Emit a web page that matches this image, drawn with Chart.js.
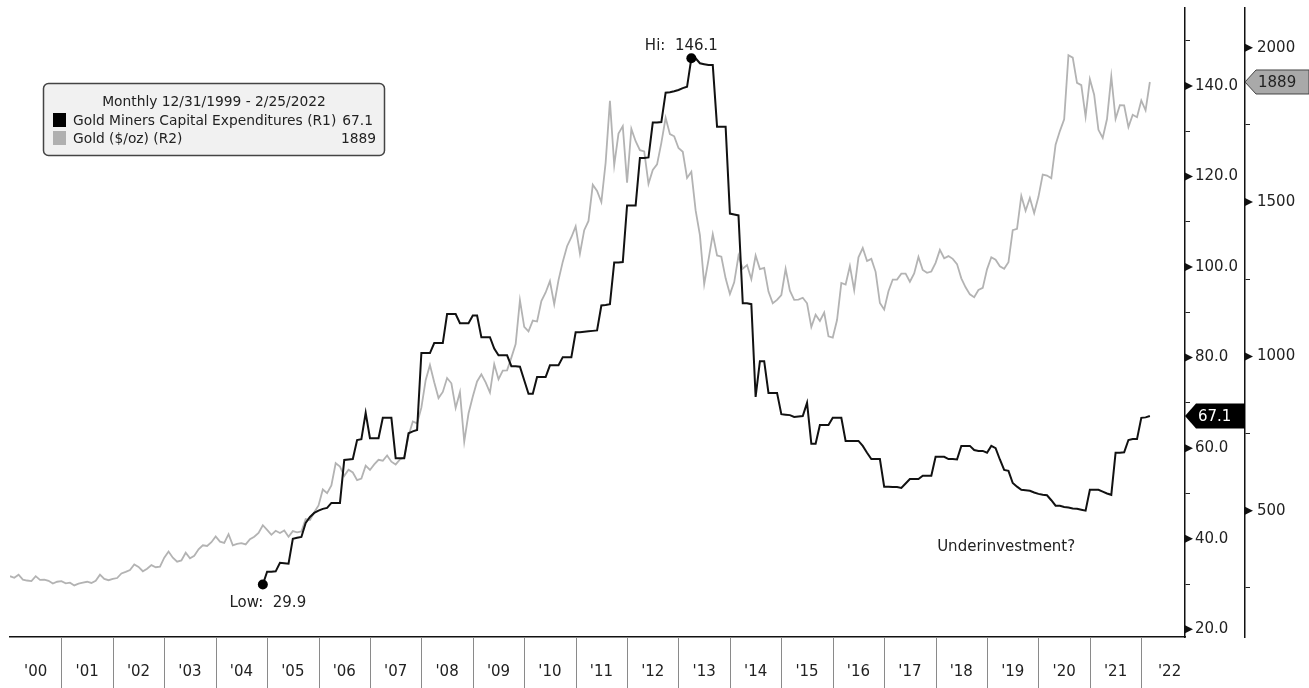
<!DOCTYPE html>
<html>
<head>
<meta charset="utf-8">
<script src="https://cdn.jsdelivr.net/npm/chart.js@4.4.1/dist/chart.umd.min.js"></script>
<style>
  html, body { margin: 0; padding: 0; background: #fff; }
  #wrap { position: relative; width: 1309px; height: 688px; }
</style>
</head>
<body>
<div id="wrap"><canvas id="goldChart"></canvas></div>
<script>
// monthly closes, first point 12/31/1999, last point 2/25/2022
var goldPrice = [
  288,
  283, 293, 277, 274, 272, 288, 276, 277, 273, 264, 270, 272,          // 2000
  265, 267, 258, 264, 267, 270, 266, 273, 293, 279, 275, 279,          // 2001
  282, 297, 302, 308, 326, 318, 304, 312, 324, 317, 319, 348,          // 2002
  368, 348, 335, 339, 364, 346, 354, 375, 388, 386, 398, 417,          // 2003
  400, 396, 424, 388, 393, 395, 391, 408, 416, 428, 453, 438,          // 2004
  422, 435, 428, 436, 416, 434, 430, 433, 473, 470, 495, 517,          // 2005
  569, 557, 582, 654, 643, 613, 633, 624, 599, 604, 646, 632,          // 2006
  650, 665, 662, 679, 659, 650, 666, 673, 743, 789, 783, 834,          // 2007
  923, 972, 916, 865, 885, 930, 913, 833, 884, 724, 815, 870,          // 2008
  919, 942, 916, 883, 975, 926, 954, 955, 996, 1040, 1182, 1096,       // 2009
  1081, 1116, 1113, 1179, 1207, 1244, 1169, 1247, 1307, 1357, 1386, 1421, // 2010
  1333, 1409, 1439, 1556, 1536, 1500, 1628, 1828, 1620, 1722, 1746, 1563, // 2011
  1737, 1697, 1668, 1664, 1559, 1604, 1622, 1692, 1773, 1720, 1713, 1675, // 2012
  1663, 1578, 1598, 1473, 1393, 1234, 1313, 1396, 1327, 1323, 1253, 1202, // 2013
  1240, 1326, 1284, 1296, 1250, 1327, 1283, 1287, 1210, 1172, 1183, 1199, // 2014
  1284, 1213, 1183, 1184, 1190, 1172, 1095, 1135, 1115, 1142, 1065, 1061, // 2015
  1118, 1238, 1233, 1293, 1215, 1321, 1351, 1309, 1316, 1274, 1173, 1152, // 2016
  1211, 1249, 1249, 1268, 1268, 1242, 1269, 1322, 1280, 1271, 1275, 1303, // 2017
  1345, 1318, 1325, 1316, 1299, 1253, 1224, 1201, 1192, 1215, 1222, 1282, // 2018
  1321, 1313, 1292, 1284, 1305, 1409, 1413, 1520, 1472, 1513, 1464, 1517, // 2019
  1589, 1586, 1577, 1686, 1730, 1768, 1976, 1968, 1886, 1879, 1777, 1898, // 2020
  1848, 1734, 1708, 1769, 1907, 1770, 1814, 1813, 1743, 1783, 1775, 1829, // 2021
  1797, 1889                                                              // 2022
];

var minersCapex = [
  null,
  null, null, null, null, null, null, null, null, null, null, null, null, // 2000
  null, null, null, null, null, null, null, null, null, null, null, null, // 2001
  null, null, null, null, null, null, null, null, null, null, null, null, // 2002
  null, null, null, null, null, null, null, null, null, null, null, null, // 2003
  null, null, null, null, null, null, null, null, null, null, 29.9, 32.7, // 2004
  32.7, 32.8, 34.7, 34.6, 34.5, 40.0, 40.2, 40.4, 43.5, 44.8, 45.7, 46.2, // 2005
  46.6, 46.8, 47.9, 47.9, 47.9, 57.4, 57.5, 57.6, 61.8, 62.0, 67.8, 62.2, // 2006
  62.2, 62.2, 66.7, 66.7, 66.7, 57.8, 57.8, 57.8, 63.3, 63.7, 64.0, 81.0, // 2007
  81.0, 81.0, 83.2, 83.2, 83.2, 89.6, 89.6, 89.6, 87.6, 87.6, 87.6, 89.3, // 2008
  89.3, 84.5, 84.5, 84.5, 82.0, 80.5, 80.5, 80.5, 78.1, 78.1, 78.0, 75.0, // 2009
  72.0, 72.0, 75.7, 75.7, 75.7, 78.3, 78.3, 78.3, 80.1, 80.1, 80.1, 85.6, // 2010
  85.6, 85.7, 85.8, 85.9, 86.0, 91.5, 91.6, 91.8, 101.0, 101.0, 101.1, 113.6, // 2011
  113.6, 113.6, 124.1, 124.1, 124.2, 131.9, 131.9, 132.0, 138.5, 138.6, 138.8, 139.1, // 2012
  139.5, 139.8, 146.1, 146.1, 145.0, 144.8, 144.6, 144.6, 131.0, 131.0, 131.0, 111.8, // 2013
  111.6, 111.4, 92.0, 92.0, 91.8, 71.3, 79.2, 79.2, 72.2, 72.2, 72.2, 67.5, // 2014
  67.4, 67.3, 66.9, 67.0, 67.1, 70.0, 61.0, 61.0, 65.1, 65.1, 65.1, 66.7, // 2015
  66.7, 66.7, 61.6, 61.6, 61.6, 61.6, 60.5, 59.0, 57.6, 57.6, 57.6, 51.5, // 2016
  51.5, 51.4, 51.4, 51.2, 52.2, 53.2, 53.2, 53.2, 53.9, 53.9, 53.9, 58.1, // 2017
  58.1, 58.1, 57.6, 57.6, 57.5, 60.5, 60.5, 60.5, 59.6, 59.4, 59.4, 59.0, // 2018
  60.5, 60.0, 57.5, 55.2, 55.0, 52.3, 51.5, 50.8, 50.7, 50.6, 50.2, 49.9, // 2019
  49.7, 49.6, 48.5, 47.3, 47.3, 47.0, 46.9, 46.7, 46.6, 46.4, 46.2, 50.8, // 2020
  50.8, 50.8, 50.4, 50.0, 49.7, 59.0, 59.0, 59.1, 61.8, 62.0, 62.0, 66.7, // 2021
  66.8, 67.1                                                              // 2022
];

var yearTicks = ["'00", "'01", "'02", "'03", "'04", "'05", "'06", "'07", "'08", "'09", "'10",
                 "'11", "'12", "'13", "'14", "'15", "'16", "'17", "'18", "'19", "'20", "'21", "'22"];
var capexTicks = [20, 40, 60, 80, 100, 120, 140];
var capexMinor = [30, 50, 70, 90, 110, 130, 150];
var goldTicks = [500, 1000, 1500, 2000];
var goldMinor = [250, 750, 1250, 1750];

var seriesNames = ['Gold Miners Capital Expenditures (R1)', 'Gold ($/oz) (R2)'];
var periodText = 'Monthly 12/31/1999 - 2/25/2022';
var noteText = 'Underinvestment?';
var notePos = { x: 2018.03, y: 38.2 };

// x position of every month, in years
var monthDates = goldPrice.map(function (v, i) { return 2000 + i / 12; });

var hiIdx = 0, loIdx = -1;
minersCapex.forEach(function (v, i) {
  if (v === null) return;
  if (v > minersCapex[hiIdx] || minersCapex[hiIdx] === null) hiIdx = i;
  if (loIdx < 0 || v < minersCapex[loIdx]) loIdx = i;
});
var lastCapex = minersCapex[minersCapex.length - 1];
var lastGold = goldPrice[goldPrice.length - 1];

var FONT = 'DejaVu Sans, Verdana, sans-serif';

function drawTag(ctx, tipX, y, rightX, h, fill, stroke, text, color) {
  ctx.beginPath();
  ctx.moveTo(tipX, y);
  ctx.lineTo(tipX + 11, y - h / 2);
  ctx.lineTo(rightX, y - h / 2);
  ctx.lineTo(rightX, y + h / 2);
  ctx.lineTo(tipX + 11, y + h / 2);
  ctx.closePath();
  ctx.fillStyle = fill;
  ctx.fill();
  if (stroke) { ctx.strokeStyle = stroke; ctx.lineWidth = 1; ctx.stroke(); }
  ctx.fillStyle = color;
  ctx.font = '15px ' + FONT;
  ctx.textAlign = 'left';
  ctx.textBaseline = 'middle';
  ctx.fillText(text, tipX + 13, y + 1);
}

// vertical axes: no extra room for the end labels
function noEndPadding(scale) {
  scale.paddingTop = 0;
  scale.paddingBottom = 0;
}

var extras = {
  id: 'extras',
  afterDraw: function (chart) {
    var ctx = chart.ctx, area = chart.chartArea;
    var xs = chart.scales.x, r1 = chart.scales.r1, r2 = chart.scales.r2;
    ctx.save();

    // year separators under the time axis
    ctx.strokeStyle = '#8a8a8a';
    ctx.lineWidth = 1;
    for (var yr = 2001; yr <= 2022; yr++) {
      var px = Math.round(xs.getPixelForValue(yr)) + 0.5;
      ctx.beginPath();
      ctx.moveTo(px, area.bottom);
      ctx.lineTo(px, chart.height);
      ctx.stroke();
    }

    // major tick arrows on both value axes
    ctx.fillStyle = '#111';
    [[r1, capexTicks], [r2, goldTicks]].forEach(function (pair) {
      var sc = pair[0];
      pair[1].forEach(function (v) {
        var py = sc.getPixelForValue(v);
        ctx.beginPath();
        ctx.moveTo(sc.left, py - 4);
        ctx.lineTo(sc.left + 8, py);
        ctx.lineTo(sc.left, py + 4);
        ctx.closePath();
        ctx.fill();
      });
    });

    // last value tags
    drawTag(ctx, r1.left, r1.getPixelForValue(lastCapex), r2.left, 25, '#000', null, lastCapex.toFixed(1), '#fff');
    drawTag(ctx, r2.left, r2.getPixelForValue(lastGold), chart.width, 24, '#a9a9a9', '#444', String(lastGold), '#222');

    // hi / low labels
    var pts = chart.getDatasetMeta(0).data;
    ctx.fillStyle = '#222';
    ctx.font = '15px ' + FONT;
    ctx.textAlign = 'center';
    ctx.textBaseline = 'middle';
    ctx.fillText('Hi:  ' + minersCapex[hiIdx].toFixed(1), pts[hiIdx].x - 10, pts[hiIdx].y - 12);
    ctx.fillText('Low:  ' + minersCapex[loIdx].toFixed(1), pts[loIdx].x + 5, pts[loIdx].y + 19);

    ctx.textAlign = 'left';
    ctx.fillText(noteText, xs.getPixelForValue(notePos.x), r1.getPixelForValue(notePos.y));

    // legend box
    ctx.beginPath();
    ctx.roundRect(43.5, 83.5, 341, 72, 5);
    ctx.fillStyle = '#f1f1f1';
    ctx.fill();
    ctx.strokeStyle = '#444';
    ctx.lineWidth = 1.5;
    ctx.stroke();
    ctx.font = '13.8px ' + FONT;
    ctx.fillStyle = '#222';
    ctx.textAlign = 'center';
    ctx.fillText(periodText, 214, 102);
    ctx.fillStyle = '#000';
    ctx.fillRect(53, 113, 13, 14);
    ctx.fillStyle = '#b0b0b0';
    ctx.fillRect(53, 131, 13, 14);
    ctx.fillStyle = '#222';
    ctx.textAlign = 'left';
    ctx.fillText(seriesNames[0], 73, 121);
    ctx.fillText(seriesNames[1], 73, 139);
    ctx.textAlign = 'right';
    ctx.fillText(lastCapex.toFixed(1), 373, 121);
    ctx.fillText(String(lastGold), 376, 139);

    ctx.restore();
  }
};

new Chart(document.getElementById('goldChart'), {
  type: 'line',
  data: {
    labels: monthDates,
    datasets: [{
      label: seriesNames[0],
      data: minersCapex,
      yAxisID: 'r1',
      borderColor: '#111',
      borderWidth: 2,
      backgroundColor: '#000',
      pointRadius: function (c) { return (c.dataIndex === hiIdx || c.dataIndex === loIdx) ? 5 : 0; },
      pointBorderWidth: 0,
      tension: 0
    }, {
      label: seriesNames[1],
      data: goldPrice,
      yAxisID: 'r2',
      borderColor: '#b3b3b3',
      borderWidth: 1.8,
      pointRadius: 0,
      tension: 0
    }]
  },
  options: {
    responsive: true,
    maintainAspectRatio: false,
    animation: false,
    layout: { padding: { left: 10, top: 8, right: 0, bottom: 0 } },
    plugins: { legend: { display: false }, tooltip: { enabled: false } },
    scales: {
      x: {
        type: 'linear',
        min: 2000,
        max: 2022.85,
        afterBuildTicks: function (scale) {
          scale.ticks = yearTicks.map(function (t, i) { return { value: i < 22 ? 2000.5 + i : 2022.55 }; });
        },
        afterFit: function (scale) { scale.height = 51; },
        grid: { display: false },
        border: { display: true, color: '#111', width: 1.5 },
        ticks: {
          autoSkip: false,
          maxRotation: 0,
          padding: 18,
          color: '#222',
          font: { family: FONT, size: 15 },
          callback: function (v, i) { return yearTicks[i]; }
        }
      },
      r1: {
        type: 'linear',
        position: 'right',
        weight: 0,
        min: 18.3,
        max: 157.2,
        afterBuildTicks: function (scale) {
          scale.ticks = capexTicks.concat(capexMinor).sort(function (a, b) { return a - b; })
            .map(function (v) { return { value: v }; });
        },
        afterFit: function (scale) { scale.width = 60; noEndPadding(scale); },
        grid: { drawOnChartArea: false, drawTicks: true, tickLength: 5, color: '#222', lineWidth: 1 },
        border: { display: true, color: '#111', width: 1.5 },
        ticks: {
          padding: 5,
          color: '#222',
          font: { family: FONT, size: 15 },
          callback: function (v) { return capexTicks.indexOf(v) >= 0 ? v.toFixed(1) : ''; }
        }
      },
      r2: {
        type: 'linear',
        position: 'right',
        weight: 1,
        min: 91,
        max: 2128.7,
        afterBuildTicks: function (scale) {
          scale.ticks = goldTicks.concat(goldMinor).sort(function (a, b) { return a - b; })
            .map(function (v) { return { value: v }; });
        },
        afterFit: function (scale) { scale.width = 64; noEndPadding(scale); },
        grid: { drawOnChartArea: false, drawTicks: true, tickLength: 5, color: '#222', lineWidth: 1 },
        border: { display: true, color: '#111', width: 1.5 },
        ticks: {
          padding: 7,
          color: '#222',
          font: { family: FONT, size: 15 },
          callback: function (v) { return goldTicks.indexOf(v) >= 0 ? String(v) : ''; }
        }
      }
    }
  },
  plugins: [extras]
});
</script>
</body>
</html>
